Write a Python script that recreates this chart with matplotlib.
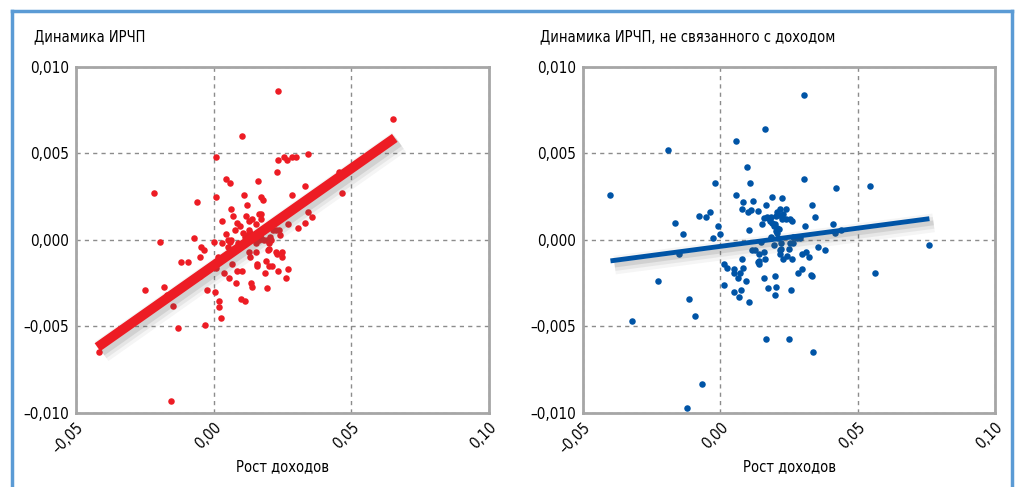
import matplotlib
matplotlib.use("Agg")
import matplotlib.pyplot as plt
import matplotlib.patheffects as pe
from matplotlib.lines import Line2D

plt.rcParams['font.family'] = ['DejaVu Sans']
plt.rcParams['font.stretch'] = 'condensed'

# --- data ---------------------------------------------------------------
left_title = "Динамика ИРЧП"
right_title = "Динамика ИРЧП, не связанного с доходом"
x_label = "Рост доходов"

x_ticks = [-0.05, 0.00, 0.05, 0.10]
x_tick_labels = ["–0,05", "0,00", "0,05", "0,10"]
y_ticks = [-0.010, -0.005, 0.000, 0.005, 0.010]
y_tick_labels = ["–0,010", "–0,005", "0,000", "0,005", "0,010"]

# left panel: income growth vs HDI change
red_x = [0.0235, 0.0104, 0.0008, -0.0217, -0.0062, -0.0195, -0.0071, -0.0045, -0.0034, 0.0003,
         0.0030, 0.0044, 0.0059, 0.0009, 0.0162, 0.0109, 0.0121, 0.0172, 0.0178, 0.0063,
         0.0030, 0.0072, 0.0084, 0.0094, 0.0118, 0.0129, 0.0141, 0.0166, 0.0173, 0.0153,
         0.0044, 0.0060, 0.0106, 0.0129, 0.0133, 0.0235, 0.0255, 0.0267, 0.0283, 0.0300,
         0.0341, 0.0231, 0.0653, 0.0455, 0.0468, 0.0332, 0.0283, 0.0344, 0.0358, 0.0333,
         0.0305, 0.0270, 0.0238, 0.0228, 0.0205, 0.0183, 0.0226, 0.0248, 0.0248, -0.0415,
         -0.0248, -0.0182, -0.0170, -0.0148, -0.0130, -0.0155, -0.0117, -0.0094, -0.0051, -0.0025,
         -0.0030, 0.0005, 0.0021, 0.0019, 0.0027, 0.0007, 0.0039, 0.0016, 0.0065, 0.0055,
         0.0084, 0.0103, 0.0083, 0.0100, 0.0113, 0.0135, 0.0141, 0.0129, 0.0132, 0.0155,
         0.0156, 0.0158, 0.0189, 0.0193, 0.0185, 0.0200, 0.0197, 0.0230, 0.0233, 0.0269,
         0.0264, 0.0213, 0.0201, 0.0173, 0.0078, 0.0115, 0.0120, 0.0054, 0.0062, 0.0054,
         0.0090, 0.0153, 0.0166, 0.0172, 0.0193, 0.0201, 0.0208, 0.0217, 0.0241, -0.0050,
         -0.0020, 0.0000]
red_y = [0.0086, 0.0060, 0.0048, 0.0027, 0.0022, -0.0001, 0.0001, -0.0004, -0.0006, -0.0001,
         -0.0002, 0.0035, 0.0033, 0.0025, 0.0034, 0.0026, 0.0020, 0.0025, 0.0023, 0.0018,
         0.0011, 0.0014, 0.0010, 0.0008, 0.0014, 0.0011, 0.0012, 0.0015, 0.0015, 0.0009,
         0.00035, -0.0001, 0.0004, 0.0006, 0.0004, 0.00464, 0.0048, 0.0046, 0.0048, 0.0048,
         0.00495, 0.0039, 0.0070, 0.0039, 0.0027, 0.0031, 0.0026, 0.0016, 0.0013, 0.0010,
         0.0007, 0.0009, 0.0006, 0.0006, 0.0002, 0.0000, -0.0007, -0.0007, -0.0010, -0.0065,
         -0.0029, -0.0027, -0.0032, -0.0038, -0.0051, -0.0093, -0.0013, -0.0013, -0.0010, -0.0029,
         -0.0049, -0.0030, -0.0035, -0.0039, -0.0045, -0.0016, -0.0019, -0.0010, -0.0014, -0.0022,
         -0.0018, -0.0018, -0.0025, -0.0034, -0.0035, -0.0025, -0.0027, -0.0007, -0.0010, -0.0007,
         -0.0014, -0.0015, -0.0012, -0.0028, -0.0019, -0.0015, -0.0006, -0.0008, -0.0018, -0.0017,
         -0.0022, -0.0015, -0.0005, 0.0012, 0.0006, 0.0002, 0.0003, 0.0000, 0.0000, -0.0004,
         -0.0002, -0.0002, 0.0000, 0.0001, 0.0000, -0.0002, 0.0000, 0.0006, 0.0003, -0.0021,
         -0.0017, -0.0014]
red_fit_x = [-0.0422, 0.0658]
red_fit_y = [-0.0062, 0.0059]

# right panel: income growth vs HDI change unrelated to income
blue_x = [-0.0403, -0.0190, -0.0165, -0.0137, -0.0079, -0.0051, -0.0038, -0.0019, -0.0009, -0.0002,
          -0.0028, 0.0057, 0.0164, 0.0096, 0.0109, 0.0057, 0.0081, 0.0079, 0.0100, 0.0118,
          0.0138, 0.0167, 0.0189, 0.0226, 0.0104, 0.0077, 0.0304, 0.0303, 0.0420, 0.0545,
          0.0761, 0.0332, 0.0343, 0.0409, 0.0418, 0.0441, 0.0307, 0.0356, 0.0381, 0.0238,
          0.0208, 0.0215, 0.0254, 0.0261, 0.0226, 0.0160, 0.0171, 0.0151, 0.0179, 0.0189,
          0.0194, 0.0214, 0.0201, 0.0206, 0.0265, 0.0280, 0.0289, 0.0183, 0.0147, 0.0116,
          0.0139, 0.0158, 0.0194, 0.0221, 0.0216, 0.0216, 0.0255, 0.0265, 0.0250, 0.0296,
          0.0311, 0.0321, 0.0562, 0.0167, 0.0249, 0.0336, -0.0067, 0.0015, 0.0023, 0.0015,
          0.0051, 0.0050, 0.0070, 0.0082, 0.0066, 0.0050, 0.0076, 0.0067, 0.0092, 0.0106,
          0.0137, 0.0140, 0.0161, 0.0158, 0.0175, 0.0198, 0.0203, 0.0198, 0.0243, 0.0259,
          0.0258, 0.0281, 0.0298, 0.0330, 0.0333, -0.0321, -0.0226, -0.0115, -0.0094, -0.0123,
          -0.0151, 0.0111, 0.0216, 0.0186, 0.0173, 0.0201, 0.0229, 0.0238, 0.0198, 0.0206,
          0.0186, 0.0210, 0.0126, 0.0221, 0.0229, 0.0140]
blue_y = [0.0026, 0.0052, 0.0010, 0.00035, 0.0014, 0.0013, 0.0016, 0.0033, 0.0008, 0.00035,
          0.0001, 0.0057, 0.0064, 0.0042, 0.0033, 0.0026, 0.0022, 0.0018, 0.0016, 0.00225,
          0.0017, 0.0020, 0.0025, 0.0024, 0.0006, -0.0011, 0.0084, 0.0035, 0.0030, 0.0031,
          -0.0003, 0.0020, 0.00135, 0.0009, 0.0004, 0.0006, 0.0008, -0.0004, -0.0006, 0.0018,
          0.0016, 0.00145, 0.0012, 0.0011, 0.0012, 0.00125, 0.00135, 0.0009, 0.0011, 0.0010,
          0.0008, 0.00065, 0.0005, 0.0004, 0.0002, 0.0001, 0.0001, 0.0001, -0.0001, -0.0006,
          -0.0008, -0.0007, -0.0003, -0.0002, -0.0006, -0.0008, -0.0002, -0.00016, -0.0005, -0.0008,
          -0.0007, -0.0010, -0.0019, -0.0057, -0.0057, -0.0065, -0.0083, -0.0014, -0.0016, -0.0026,
          -0.0017, -0.0019, -0.0019, -0.0016, -0.0022, -0.0030, -0.0029, -0.0033, -0.0024, -0.0036,
          -0.0013, -0.0012, -0.0011, -0.0022, -0.0028, -0.0021, -0.0027, -0.0032, -0.0009, -0.0011,
          -0.0029, -0.0019, -0.0017, -0.0020, -0.0021, -0.0047, -0.0024, -0.0034, -0.0044, -0.0097,
          -0.0008, 0.00175, 0.0018, 0.0013, 0.00125, 0.0014, 0.0015, 0.0012, 0.0009, 0.0007,
          0.0002, 0.0001, -0.0006, -0.0005, -0.0011, -0.0014]
blue_fit_x = [-0.0400, 0.0761]
blue_fit_y = [-0.00121, 0.00123]

red = "#ED1C24"
blue = "#0054A6"
grid_col = "#8C8C8C"
spine_col = "#A6A6A6"

fig = plt.figure(figsize=(10.21, 4.87), dpi=100)

# light blue frame around the figure
frame_col = "#5B9BD5"
fig.add_artist(Line2D([12 / 1021, 12 / 1021], [0, 1 - 11 / 487], color=frame_col, lw=2.5))
fig.add_artist(Line2D([12 / 1021, 1012 / 1021], [1 - 11 / 487, 1 - 11 / 487], color=frame_col, lw=2.5))
fig.add_artist(Line2D([1012 / 1021, 1012 / 1021], [0, 1 - 11 / 487], color=frame_col, lw=2.5))

ax1 = fig.add_axes([0.0744, 0.152, 0.4045, 0.7105])
ax2 = fig.add_axes([0.571, 0.152, 0.4036, 0.7105])


def shadow(lw):
    # soft grey drop shadow, a few layers to fake a blur
    return [pe.SimpleLineShadow(offset=(3, -3), shadow_color="#555555", alpha=0.06, linewidth=lw + 10),
            pe.SimpleLineShadow(offset=(3, -3), shadow_color="#555555", alpha=0.09, linewidth=lw + 5),
            pe.SimpleLineShadow(offset=(3, -3), shadow_color="#555555", alpha=0.14, linewidth=lw),
            pe.Normal()]


def style(ax):
    ax.set_xlim(-0.05, 0.10)
    ax.set_ylim(-0.010, 0.010)
    ax.set_xticks(x_ticks)
    ax.set_xticklabels(x_tick_labels, rotation=45, ha="right", va="top",
                       rotation_mode="anchor", fontsize=11)
    ax.set_yticks(y_ticks)
    ax.set_yticklabels(y_tick_labels, fontsize=11)
    ax.tick_params(length=0, pad=5)
    ax.grid(True, linestyle=(0, (3, 3)), color=grid_col, linewidth=1.0)
    ax.set_axisbelow(True)
    for s in ax.spines.values():
        s.set_color(spine_col)
        s.set_linewidth(2)


style(ax1)
style(ax2)

ax1.scatter(red_x, red_y, s=22, color=red, linewidths=0, zorder=3)
ax1.plot(red_fit_x, red_fit_y, color=red, lw=7, solid_capstyle="butt", zorder=4,
         path_effects=shadow(7))

ax2.scatter(blue_x, blue_y, s=22, color=blue, linewidths=0, zorder=3)
ax2.plot(blue_fit_x, blue_fit_y, color=blue, lw=3.5, solid_capstyle="butt", zorder=4,
         path_effects=shadow(3.5))

fig.text(34 / 1021, 1 - 37 / 487, left_title, fontsize=10.5, ha="left", va="center")
fig.text(540 / 1021, 1 - 37 / 487, right_title, fontsize=10.5, ha="left", va="center")
fig.text(282 / 1021, 1 - 467 / 487, x_label, fontsize=10.5, ha="center", va="center")
fig.text(789 / 1021, 1 - 467 / 487, x_label, fontsize=10.5, ha="center", va="center")

fig.savefig("out.png", dpi=100)
